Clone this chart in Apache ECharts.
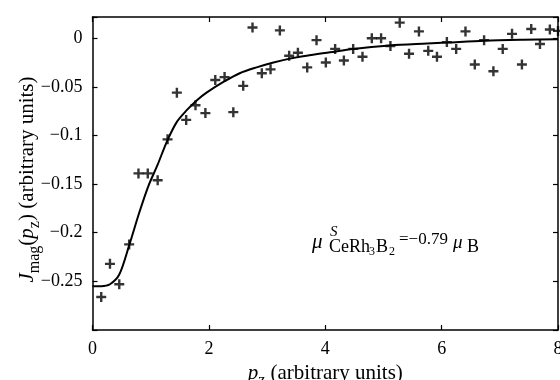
<!DOCTYPE html>
<html>
<head>
<meta charset="utf-8">
<script src="https://cdn.jsdelivr.net/npm/echarts@6/dist/echarts.min.js"></script>
<style>html,body{margin:0;padding:0;background:#fff}#c{width:560px;height:380px}</style>
</head>
<body>
<div id="c"></div>
<script>
// Measured data points (p_z, J_mag)
const pz = [0.15,0.30,0.46,0.63,0.79,0.95,1.12,1.29,1.45,1.61,1.77,1.94,2.11,2.27,2.42,2.59,2.75,2.91,3.06,3.22,3.38,3.53,3.69,3.85,4.01,4.17,4.32,4.48,4.64,4.80,4.96,5.12,5.28,5.44,5.61,5.77,5.92,6.09,6.25,6.41,6.57,6.73,6.89,7.05,7.21,7.38,7.54,7.69,7.86,8.00];
const jmag = [-0.266,-0.232,-0.253,-0.212,-0.139,-0.139,-0.146,-0.104,-0.056,-0.084,-0.069,-0.077,-0.043,-0.040,-0.076,-0.049,0.011,-0.036,-0.032,0.008,-0.018,-0.015,-0.030,-0.002,-0.025,-0.011,-0.023,-0.011,-0.019,0.000,0.000,-0.008,0.016,-0.016,0.007,-0.013,-0.019,-0.004,-0.011,0.007,-0.027,-0.002,-0.034,-0.011,0.0045,-0.027,0.0095,-0.006,0.009,0.0075];
// Theory curve
const curveX = [0,0.15,0.30,0.46,0.63,0.80,0.96,1.12,1.28,1.45,1.62,1.79,1.96,2.25,2.53,2.82,3.11,3.39,3.68,4.08,4.48,5.11,5.75,6.09,6.73,7.40,8.00];
const curveY = [-0.255,-0.255,-0.253,-0.243,-0.213,-0.180,-0.152,-0.130,-0.106,-0.086,-0.074,-0.064,-0.056,-0.045,-0.036,-0.030,-0.025,-0.021,-0.018,-0.0145,-0.0110,-0.0075,-0.0055,-0.0045,-0.0025,-0.0015,-0.001];
const xTicks = [0,2,4,6,8];
const yTicks = [0,-0.05,-0.1,-0.15,-0.2,-0.25];

const FONT = '"Liberation Serif", "Times New Roman", serif';
const chart = echarts.init(document.getElementById('c'), null, {renderer:'canvas'});
const axisCommon = {
  axisLine:{show:true, onZero:false, lineStyle:{color:'#000', width:1.5}},
  axisTick:{show:true, inside:true, length:5, lineStyle:{color:'#000', width:1.2}},
  splitLine:{show:false}
};
function fmtY(v){
  const r = +(+v).toFixed(4);
  if (!yTicks.some(t => Math.abs(t - r) < 1e-6)) return '';
  return r === 0 ? '0' : String(r).replace('-', '\u2212');
}
function fmtX(v){
  const r = +(+v).toFixed(4);
  return xTicks.includes(r) ? String(r) : '';
}
const plus = 'path://M3.8,0H6.2V3.8H10V6.2H6.2V10H3.8V6.2H0V3.8H3.8Z';
const nameRich = {
  i:{fontStyle:'italic', fontFamily:FONT, fontSize:21, lineHeight:26, verticalAlign:'top'},
  s:{fontFamily:FONT, fontSize:16, lineHeight:14, verticalAlign:'bottom'},
  n:{fontFamily:FONT, fontSize:21, lineHeight:26, verticalAlign:'top'}
};
const option = {
  animation:false,
  backgroundColor:'#fff',
  grid:{left:92.5, right:2, top:17, bottom:50, show:false, containLabel:false, outerBoundsMode:'none'},
  xAxis:[
    Object.assign({type:'value', min:0, max:8, interval:2, position:'bottom',
      name:'{i|p}{s|z}{n| (arbitrary units)}', nameLocation:'middle', nameGap:33, nameMoveOverlap:false,
      nameTextStyle:{color:'#000', fontFamily:FONT, fontSize:21, rich:nameRich},
      axisLabel:{color:'#000', fontFamily:FONT, fontSize:18, margin:10, formatter:fmtX}}, axisCommon),
    Object.assign({type:'value', min:0, max:8, interval:2, position:'top', axisLabel:{show:false}}, axisCommon)
  ],
  yAxis:[
    Object.assign({type:'value', min:-0.3, max:0.0218, interval:0.05, position:'left',
      name:'{i|J}{s|mag}{n|(}{i|p}{s|z}{n|) (arbitrary units)}', nameLocation:'middle', nameGap:50, nameRotate:90, nameMoveOverlap:false,
      nameTextStyle:{color:'#000', fontFamily:FONT, fontSize:21, rich:nameRich, padding:[0,12,0,0]},
      axisLabel:{color:'#000', fontFamily:FONT, fontSize:18, margin:10, formatter:fmtY}}, axisCommon),
    Object.assign({type:'value', min:-0.3, max:0.0218, interval:0.05, position:'right', axisLabel:{show:false}}, axisCommon)
  ],
  series:[
    {type:'line', xAxisIndex:0, yAxisIndex:0, data:curveX.map((x,i)=>[x,curveY[i]]),
     showSymbol:false, smooth:0.3, lineStyle:{color:'#000', width:2}, z:2},
    {type:'scatter', xAxisIndex:0, yAxisIndex:0, data:pz.map((x,i)=>[x,jmag[i]]),
     symbol:plus, symbolSize:10, itemStyle:{color:'#000'}, z:3, clip:true}
  ],
  graphic:[
    {type:'text', left:312, top:232, style:{text:'\u03bc', font:'italic 21px '+FONT, fill:'#000'}},
    {type:'text', left:330, top:225, style:{text:'S', font:'italic 15px '+FONT, fill:'#000'}},
    {type:'text', left:329, top:238, style:{text:'CeRh', font:'18px '+FONT, fill:'#000'}},
    {type:'text', left:369, top:246, style:{text:'3', font:'12px '+FONT, fill:'#000'}},
    {type:'text', left:376, top:238, style:{text:'B', font:'18px '+FONT, fill:'#000'}},
    {type:'text', left:389, top:246, style:{text:'2', font:'12px '+FONT, fill:'#000'}},
    {type:'text', left:399, top:231, style:{text:'=\u22120.79', font:'17px '+FONT, fill:'#000'}},
    {type:'text', left:453, top:233, style:{text:'\u03bc', font:'italic 19px '+FONT, fill:'#000'}},
    {type:'text', left:467, top:238, style:{text:'B', font:'18px '+FONT, fill:'#000'}}
  ]
};
chart.setOption(option);
</script>
</body>
</html>
